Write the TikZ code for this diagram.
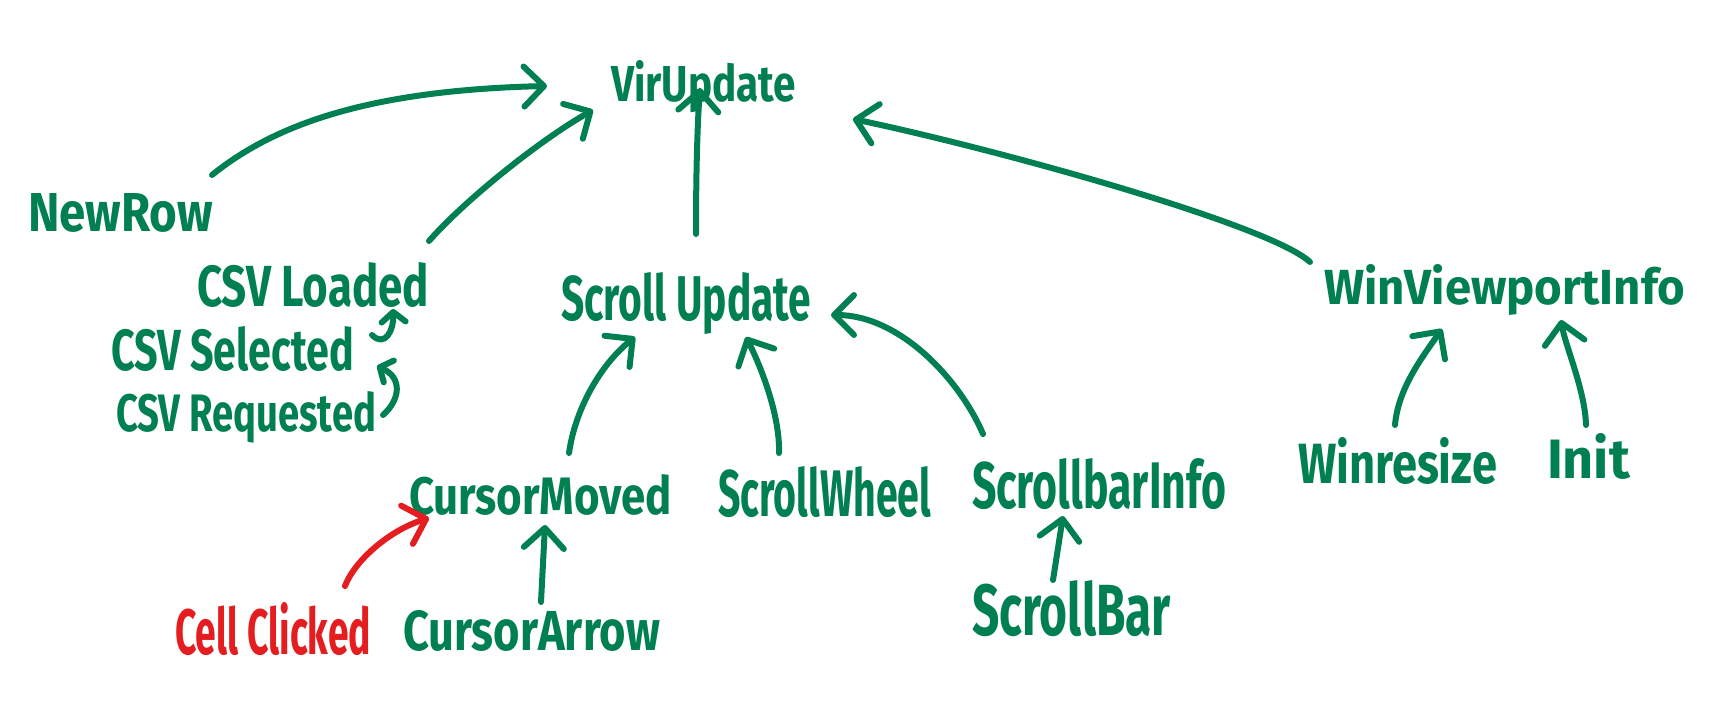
\documentclass[tikz,border=0pt]{standalone}
\usepackage{fontspec}
\setmainfont{Fira Sans}
\usepackage{graphicx}
\usetikzlibrary{arrows.meta}
\definecolor{pen}{RGB}{0,127,80}
\definecolor{redpen}{RGB}{228,30,32}
\newcommand\hwtext[3]{\resizebox{#1bp}{#2bp}{\bfseries #3}}
\tikzset{
 lbl/.style={anchor=base west, inner sep=0pt, outer sep=0pt, text=pen},
 conn/.style={draw=pen, line width=6bp, line cap=round, line join=round,
   -{Straight Barb[length=20bp,width=40bp,round]}},
 smallconn/.style={conn, -{Straight Barb[length=10bp,width=24bp,round]}},
}
\begin{document}
\begin{tikzpicture}[x=1bp,y=-1bp]
\useasboundingbox (0,0) rectangle (1733,713);
\node[lbl] (vir)    at (611,102) {\hwtext{185}{41}{VirUpdate}};
\node[lbl] (newrow) at (28,231)  {\hwtext{185}{38}{NewRow}};
\node[lbl] (csvL)   at (197,306) {\hwtext{232}{44}{CSV Loaded}};
\node[lbl] (csvS)   at (111,370) {\hwtext{243}{44}{CSV Selected}};
\node[lbl] (csvR)   at (116,431) {\hwtext{260}{40}{CSV Requested}};
\node[lbl] (scrU)   at (561,320) {\hwtext{250}{48}{Scroll Update}};
\node[lbl] (winvp)  at (1324,304){\hwtext{361}{40}{WinViewportInfo}};
\node[lbl] (winres) at (1298,483){\hwtext{199}{46}{Winresize}};
\node[lbl] (init)   at (1547,478){\hwtext{83}{45}{Init}};
\node[lbl] (curM)   at (409,514) {\hwtext{263}{40}{CursorMoved}};
\node[lbl] (scrW)   at (718,516) {\hwtext{213}{50}{ScrollWheel}};
\node[lbl] (sbInfo) at (972,508) {\hwtext{254}{50}{ScrollbarInfo}};
\node[lbl] (sBar)   at (972,635) {\hwtext{199}{55}{ScrollBar}};
\node[lbl,text=redpen] (cell) at (175,654) {\hwtext{196}{52}{Cell Clicked}};
\node[lbl] (curA)   at (403,650) {\hwtext{257}{40}{CursorArrow}};

\draw[conn] ([shift={(184,-56)}]newrow.base west) .. controls (280,120) and (380,90) .. ([shift={(-64,-16)}]vir.base west);
\draw[conn] ([shift={(232,-65)}]csvL.base west) .. controls (465,200) and (540,140) .. ([shift={(-18,8)}]vir.base west);
\draw[conn] ([shift={(135,-86)}]scrU.base west) .. controls (696,180) and (697,130) .. ([shift={(89,-14)}]vir.base west);
\draw[conn] ([shift={(-14,-42)}]winvp.base west) .. controls (1270,225) and (1000,150) .. ([shift={(242,17)}]vir.base west);
\draw[smallconn] ([shift={(261,-35)}]csvS.base west) .. controls (385,348) and (394,330) .. ([shift={(196,3)}]csvL.base west);
\draw[smallconn] ([shift={(267,-16)}]csvR.base west) .. controls (400,400) and (403,378) .. ([shift={(266,-4)}]csvS.base west);
\draw[conn] ([shift={(160,-61)}]curM.base west) .. controls (575,410) and (600,365) .. ([shift={(74,17)}]scrU.base west);
\draw[conn] ([shift={(61,-63)}]scrW.base west) .. controls (780,420) and (765,375) .. ([shift={(185,17)}]scrU.base west);
\draw[conn] ([shift={(11,-74)}]sbInfo.base west) .. controls (960,380) and (900,315) .. ([shift={(270,-5)}]scrU.base west);
\draw[conn] ([shift={(97,-58)}]winres.base west) .. controls (1398,390) and (1420,360) .. ([shift={(118,25)}]winvp.base west);
\draw[conn] ([shift={(39,-53)}]init.base west) .. controls (1585,390) and (1565,345) .. ([shift={(237,16)}]winvp.base west);
\draw[conn] ([shift={(81,-55)}]sBar.base west) -- ([shift={(91,8)}]sbInfo.base west);
\draw[conn,draw=redpen] ([shift={(170,-68)}]cell.base west) .. controls (355,560) and (390,530) .. ([shift={(20,4)}]curM.base west);
\draw[conn] ([shift={(138,-48)}]curA.base west) -- ([shift={(136,11)}]curM.base west);
\end{tikzpicture}
\end{document}
